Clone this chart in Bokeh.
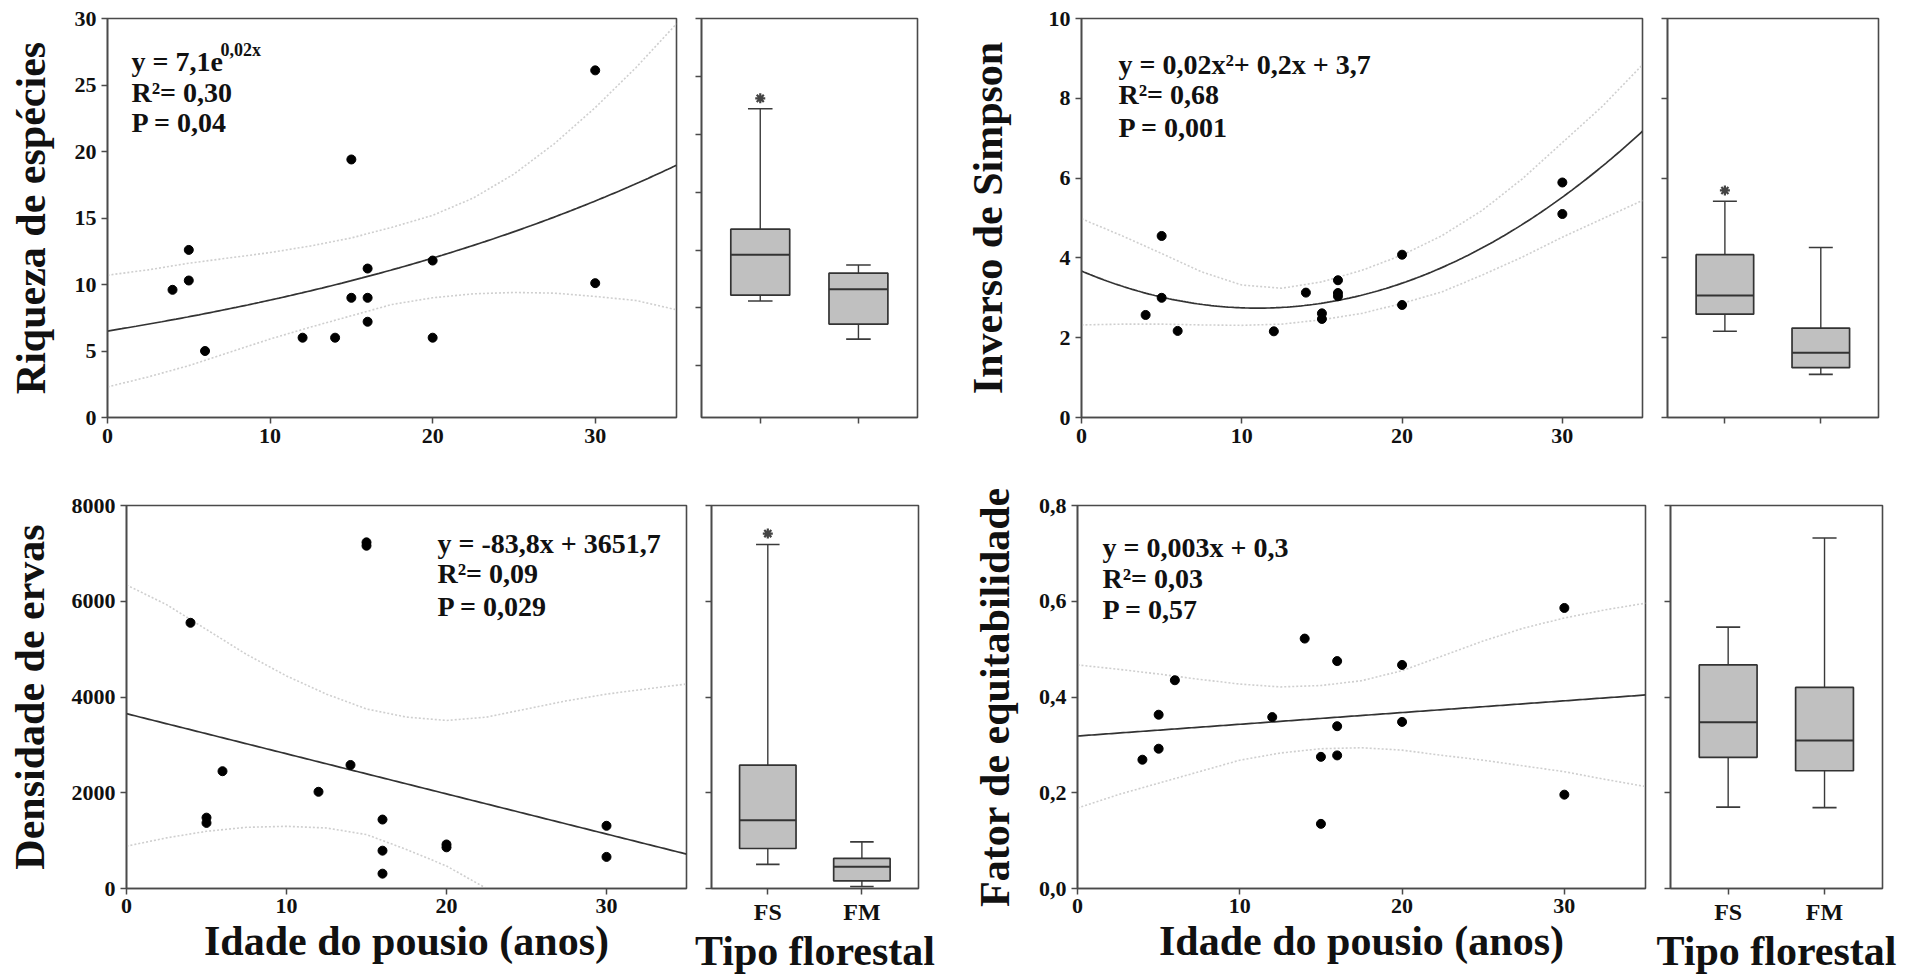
import numpy as np
from bokeh.plotting import figure
from bokeh.layouts import row, column
from bokeh.models import Range1d, FixedTicker, Label, CustomJSTickFormatter
from bokeh.embed import file_html
from bokeh.resources import INLINE

FONT = "Liberation Serif"
LINE = "#4a4a4a"

# ---------------- data ----------------
groups = ["FS", "FM"]
x_ticks = [0, 10, 20, 30]
band_x = [0, 2.5, 5, 7.5, 10, 12.5, 15, 17.5, 20, 22.5, 25, 27.5, 30, 32.5, 35]

# Riqueza de espécies
rich_x = [4, 5, 5, 6, 12, 14, 15, 15, 16, 16, 16, 20, 20, 30, 30]
rich_y = [9.6, 12.6, 10.3, 5.0, 6.0, 6.0, 19.4, 9.0, 11.2, 9.0, 7.2, 11.8, 6.0, 26.1, 10.1]
rich_fit = (6.5, 0.0306)  # a*exp(b*x) as drawn
rich_up = [10.7, 11.1, 11.6, 12.0, 12.4, 12.9, 13.5, 14.3, 15.2, 16.5, 18.3, 20.6, 23.3, 26.3, 29.6]
rich_lo = [2.3, 3.05, 3.9, 4.9, 5.9, 6.8, 7.65, 8.5, 9.0, 9.3, 9.4, 9.35, 9.1, 8.8, 8.1]
rich_eq = ["y = 7,1e", "R\u00b2= 0,30", "P = 0,04"]
rich_sup = "0,02x"
rich_box = dict(low=[5.6, 2.3], q1=[6.1, 3.6], med=[9.6, 6.6], q3=[11.8, 8.0], high=[22.2, 8.7])
rich_out = (["FS"], [23.1])

# Inverso de Simpson
simp_x = [4, 5, 5, 6, 12, 14, 15, 15, 16, 16, 16, 20, 20, 30, 30]
simp_y = [2.57, 4.55, 3.0, 2.17, 2.16, 3.13, 2.61, 2.47, 3.44, 3.12, 3.04, 4.08, 2.82, 5.89, 5.1]
simp_fit = (0.00769, -0.169, 3.67)  # quadratic as drawn
simp_up = [4.98, 4.56, 4.11, 3.65, 3.32, 3.24, 3.4, 3.69, 4.07, 4.56, 5.19, 5.98, 6.89, 7.8, 8.84]
simp_lo = [2.32, 2.34, 2.34, 2.32, 2.31, 2.34, 2.45, 2.61, 2.86, 3.15, 3.57, 4.02, 4.52, 4.98, 5.44]
simp_eq = ["y = 0,02x\u00b2+ 0,2x + 3,7", "R\u00b2= 0,68", "P = 0,001"]
simp_box = dict(low=[2.16, 1.08], q1=[2.59, 1.25], med=[3.06, 1.62], q3=[4.08, 2.24], high=[5.42, 4.26])
simp_out = (["FS"], [5.69])

# Densidade de ervas
dens_x = [4, 5, 5, 6, 12, 14, 15, 15, 16, 16, 16, 20, 20, 30, 30]
dens_y = [5550, 1480, 1370, 2450, 2020, 2580, 7230, 7160, 1440, 790, 310, 920, 860, 1310, 660]
dens_fit = (-83.8, 3651.7)
dens_up = [6340, 5930, 5410, 4890, 4440, 4060, 3750, 3580, 3510, 3580, 3750, 3920, 4060, 4170, 4270]
dens_lo = [884, 1057, 1195, 1278, 1299, 1264, 1126, 815, 470, 0]
dens_eq = ["y = -83,8x + 3651,7", "R\u00b2= 0,09", "P = 0,029"]
dens_box = dict(low=[504, 41], q1=[836, 159], med=[1423, 456], q3=[2577, 629], high=[7185, 974])
dens_out = (["FS"], [7413])

# Fator de equitabilidade
equi_x = [4, 5, 5, 6, 12, 14, 15, 15, 16, 16, 16, 20, 20, 30, 30]
equi_y = [0.269, 0.292, 0.363, 0.435, 0.358, 0.522, 0.275, 0.135, 0.475, 0.339, 0.278, 0.467, 0.348, 0.586, 0.196]
equi_fit = (0.00245, 0.3185)
equi_up = [0.467, 0.458, 0.448, 0.437, 0.427, 0.421, 0.424, 0.434, 0.455, 0.486, 0.517, 0.544, 0.565, 0.582, 0.596]
equi_lo = [0.168, 0.196, 0.220, 0.244, 0.268, 0.283, 0.292, 0.294, 0.289, 0.278, 0.268, 0.256, 0.244, 0.228, 0.213]
equi_eq = ["y = 0,003x + 0,3", "R\u00b2= 0,03", "P = 0,57"]
equi_box = dict(low=[0.170, 0.169], q1=[0.274, 0.246], med=[0.347, 0.309], q3=[0.467, 0.420], high=[0.546, 0.732])
equi_out = ([], [])


# ---------------- helpers ----------------
def base_fig(W, H, L, R, T, B, xr, yr):
    p = figure(width=W, height=H, min_border_left=L, min_border_right=R,
               min_border_top=T, min_border_bottom=B,
               x_range=Range1d(*xr), y_range=Range1d(*yr),
               output_backend="svg", toolbar_location=None, title=None)
    p.xgrid.visible = False
    p.ygrid.visible = False
    p.outline_line_color = LINE
    p.outline_line_width = 1.6
    p.background_fill_color = "white"
    p.border_fill_color = "white"
    for ax in (p.xaxis[0], p.yaxis[0]):
        ax.axis_line_color = LINE
        ax.axis_line_width = 1.6
        ax.major_tick_line_color = LINE
        ax.major_tick_line_width = 1.5
        ax.major_tick_out = 6
        ax.major_tick_in = 0
        ax.minor_tick_line_color = None
        ax.major_label_text_font = FONT
        ax.major_label_text_font_style = "bold"
        ax.major_label_text_font_size = "22px"
        ax.major_label_text_color = "#111111"
        ax.major_label_standoff = 5
        ax.axis_label_text_font = FONT
        ax.axis_label_text_font_style = "bold"
        ax.axis_label_text_font_size = "42px"
        ax.axis_label_text_color = "#111111"
    return p


def scatter_panel(W, H, L, R, T, B, yr, yticks, xs, ys, fit_y, up, lo, lo_x,
                  ylabel, ystand, eq, dx, dys, xlabel=None, yfmt=None, sup=None):
    xr = (0, 35)
    p = base_fig(W, H, L, R, T, B, xr, yr)
    p.xaxis.ticker = FixedTicker(ticks=x_ticks)
    p.yaxis.ticker = FixedTicker(ticks=yticks)
    if yfmt is not None:
        p.yaxis.formatter = yfmt
    p.yaxis.axis_label = ylabel
    p.yaxis.axis_label_standoff = ystand
    if xlabel:
        p.xaxis.axis_label = xlabel
        p.xaxis.axis_label_standoff = 2
        p.xaxis.major_label_standoff = 4
    # confidence bands
    p.line(band_x, up, line_color="#cfcfcf", line_width=1.6, line_dash="2 2")
    p.line(lo_x, lo, line_color="#cfcfcf", line_width=1.6, line_dash="2 2")
    # fitted curve
    xx = np.linspace(0, 35, 200)
    p.line(xx, fit_y(xx), line_color="#333333", line_width=1.7)
    # points
    p.scatter(xs, ys, size=9, color="black")
    # equation text (placed relative to frame)
    fw = W - L - R
    fh = H - T - B
    for dy, t in zip(dys, eq):
        p.add_layout(Label(x=xr[0] + dx / fw * (xr[1] - xr[0]),
                           y=yr[1] - dy / fh * (yr[1] - yr[0]),
                           text=t, text_font=FONT, text_font_style="bold",
                           text_font_size="28px", text_color="#111111",
                           text_baseline="alphabetic", text_align="left"))
    if sup is not None:
        p.add_layout(Label(x=xr[0] + (dx + 89) / fw * (xr[1] - xr[0]),
                           y=yr[1] - (dys[0] - 11) / fh * (yr[1] - yr[0]),
                           text=sup, text_font=FONT, text_font_style="bold",
                           text_font_size="18px", text_color="#111111",
                           text_baseline="alphabetic", text_align="left"))
    return p


def box_panel(W, H, L, R, T, B, yr, yticks, stats, outl, show_labels, xlabel=None):
    xr = (0.4016, 2.6016)
    p = base_fig(W, H, L, R, T, B, xr, yr)
    pos = [i + 1 for i in range(len(groups))]
    p.yaxis.ticker = FixedTicker(ticks=yticks)
    p.yaxis.formatter = CustomJSTickFormatter(code="return ''")
    p.yaxis.major_label_standoff = 0
    p.xaxis.ticker = FixedTicker(ticks=pos)
    if show_labels:
        p.xaxis.major_label_overrides = {k: g for k, g in zip(pos, groups)}
        p.xaxis.major_label_text_font_size = "24px"
        p.xaxis.major_label_standoff = 4
        p.xaxis.axis_label = xlabel
        p.xaxis.axis_label_standoff = 0
    else:
        p.xaxis.formatter = CustomJSTickFormatter(code="return ''")
    # whiskers
    p.segment(pos, stats["q3"], pos, stats["high"], line_color="#3a3a3a", line_width=1.4)
    p.segment(pos, stats["low"], pos, stats["q1"], line_color="#3a3a3a", line_width=1.4)
    cw = 0.125
    p.segment([q - cw for q in pos], stats["high"], [q + cw for q in pos], stats["high"],
              line_color="#3a3a3a", line_width=1.6)
    p.segment([q - cw for q in pos], stats["low"], [q + cw for q in pos], stats["low"],
              line_color="#3a3a3a", line_width=1.6)
    # boxes
    p.vbar(x=pos, width=0.6, bottom=stats["q1"], top=stats["q3"],
           fill_color="#c0c0c0", line_color="#333333", line_width=1.7)
    p.segment([q - 0.3 for q in pos], stats["med"], [q + 0.3 for q in pos], stats["med"],
              line_color="#333333", line_width=2)
    # outliers
    if outl[0]:
        ox = [groups.index(g) + 1 for g in outl[0]]
        p.scatter(ox, outl[1], marker="asterisk", size=10, line_color="#444444", line_width=2.2)
    return p


TOP_H = 468
BOT_H = 508

s1 = scatter_panel(690, TOP_H, 107, 14, 17, 49, (0, 30), [0, 5, 10, 15, 20, 25, 30],
                   rich_x, rich_y, lambda x: rich_fit[0] * np.exp(rich_fit[1] * x),
                   rich_up, rich_lo, band_x, "Riqueza de espécies", 18,
                   rich_eq, 24, [43, 75, 105], sup=rich_sup)
b1 = box_panel(270, TOP_H, 11, 43, 18, 49, (-4.47, 30), [0, 5, 10, 15, 20, 25, 30],
               rich_box, rich_out, False)
s2 = scatter_panel(695, TOP_H, 121, 13, 15, 51, (0, 10), [0, 2, 4, 6, 8, 10],
                   simp_x, simp_y, lambda x: simp_fit[0] * x ** 2 + simp_fit[1] * x + simp_fit[2],
                   simp_up, simp_lo, band_x, "Inverso de Simpson", 35,
                   simp_eq, 37, [46, 77, 110])
b2 = box_panel(265, TOP_H, 12, 42, 18, 49, (0, 10), [0, 2, 4, 6, 8, 10],
               simp_box, simp_out, False)

s3 = scatter_panel(690, BOT_H, 126, 4, 35, 87, (0, 8000), [0, 2000, 4000, 6000, 8000],
                   dens_x, dens_y, lambda x: dens_fit[0] * x + dens_fit[1],
                   dens_up, dens_lo, band_x[:len(dens_lo)], "Densidade de ervas", 16,
                   dens_eq, 311, [38, 69, 102], xlabel="Idade do pousio (anos)")
b3 = box_panel(270, BOT_H, 21, 42, 35, 87, (0, 8000), [0, 2000, 4000, 6000, 8000],
               dens_box, dens_out, True, xlabel="Tipo florestal")
s4 = scatter_panel(690, BOT_H, 117, 5, 35, 87, (0, 0.8), [0, 0.2, 0.4, 0.6, 0.8],
                   equi_x, equi_y, lambda x: equi_fit[0] * x + equi_fit[1],
                   equi_up, equi_lo, band_x, "Fator de equitabilidade", 18,
                   equi_eq, 25, [42, 74, 105], xlabel="Idade do pousio (anos)",
                   yfmt=CustomJSTickFormatter(code="return tick.toFixed(1).replace('.', ',')"))
b4 = box_panel(270, BOT_H, 20, 38, 37, 85, (0, 0.8), [0, 0.2, 0.4, 0.6, 0.8],
               equi_box, equi_out, True, xlabel="Tipo florestal")

layout = column(row(s1, b1, s2, b2, spacing=0), row(s3, b3, s4, b4, spacing=0), spacing=0)

open("out.html", "w").write(file_html(layout, INLINE))
